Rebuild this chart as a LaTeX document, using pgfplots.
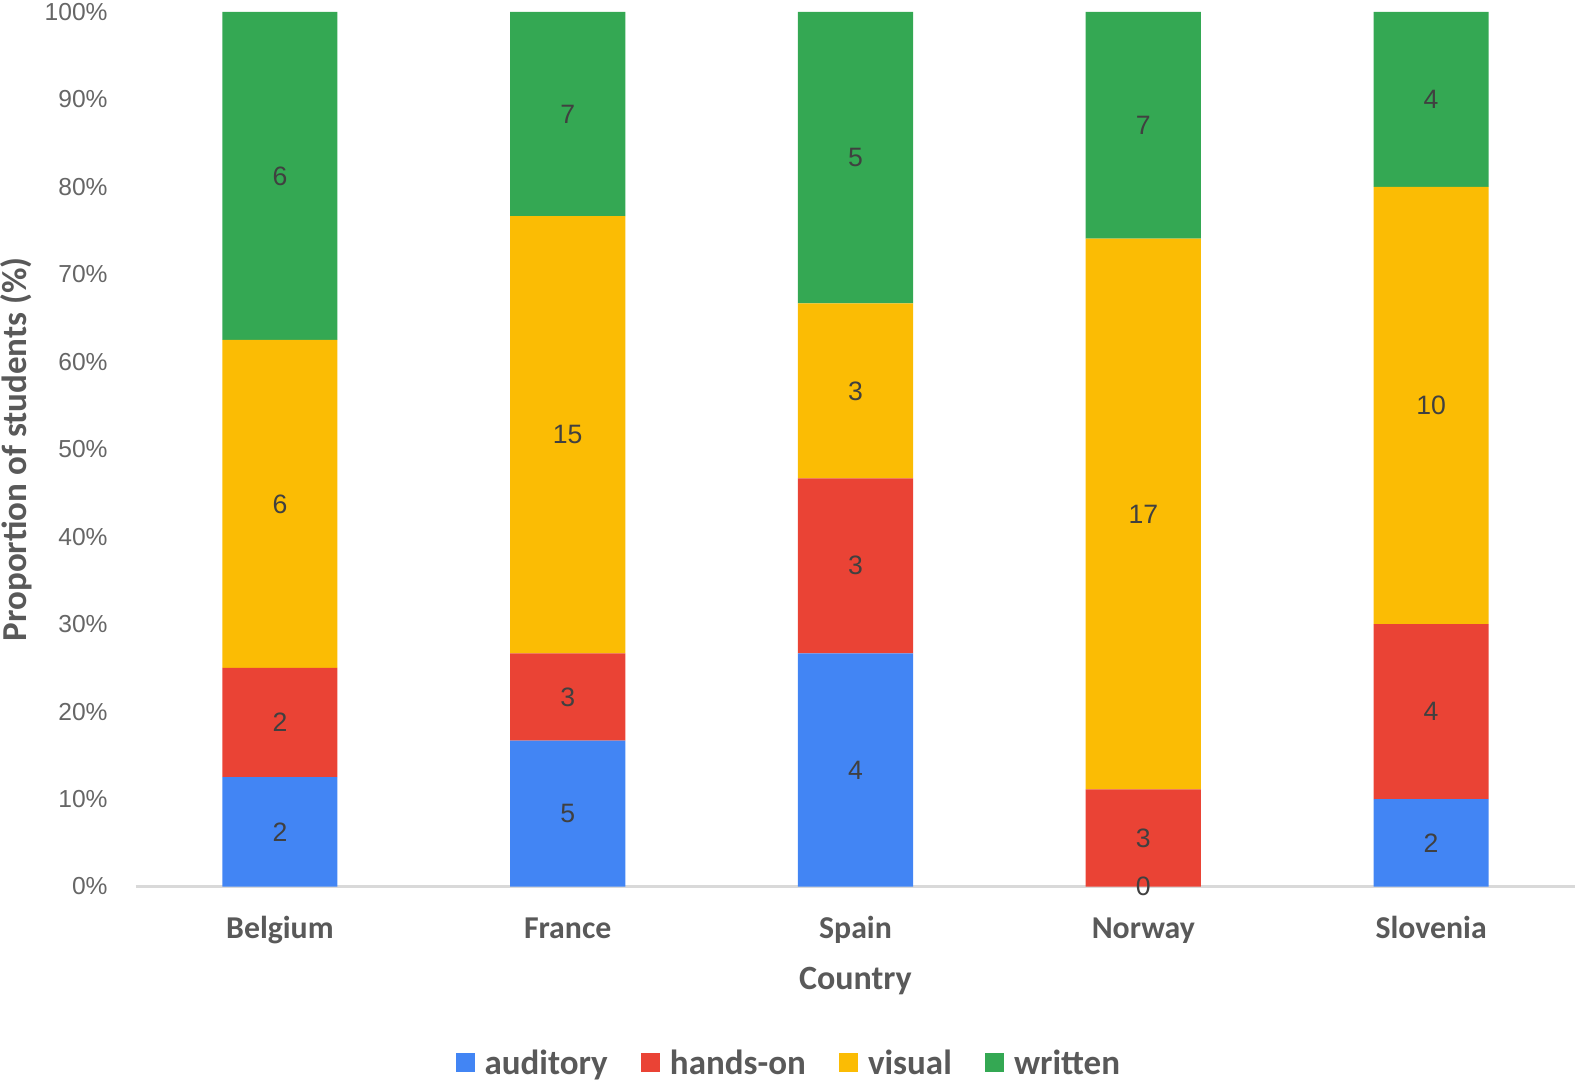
\documentclass[border=0pt]{standalone}
\usepackage{pgfplots}
\usepackage{pgfplotstable}
\pgfplotsset{compat=1.18}
\usepackage{fontspec}
\setmainfont{Carlito}
\newfontfamily\arial{Liberation Sans}
\definecolor{cA}{HTML}{4285F4}
\definecolor{cH}{HTML}{EA4335}
\definecolor{cV}{HTML}{FBBC04}
\definecolor{cW}{HTML}{34A853}
\definecolor{tgray}{HTML}{595959}
\definecolor{lgray}{HTML}{666666}
\definecolor{dgray}{HTML}{404040}
\definecolor{axgray}{HTML}{D9D9D9}

% x = country index, p = percent of students, n = number of students
\pgfplotstableread{
x p n
0 12.5 2
1 16.667 5
2 26.667 4
3 0 0
4 10 2
}\auditory
\pgfplotstableread{
x p n
0 12.5 2
1 10 3
2 20 3
3 11.111 3
4 20 4
}\handson
\pgfplotstableread{
x p n
0 37.5 6
1 50 15
2 20 3
3 62.963 17
4 50 10
}\visual
\pgfplotstableread{
x p n
0 37.5 6
1 23.333 7
2 33.333 5
3 25.926 7
4 20 4
}\written
% label positions: middle of each stacked segment (percent), n = count shown
\pgfplotstableread{
x c n
0 6.25 2
1 8.333 5
2 13.333 4
3 0 0
4 5 2
0 18.75 2
1 21.667 3
2 36.667 3
3 5.556 3
4 20 4
0 43.75 6
1 51.667 15
2 56.667 3
3 42.593 17
4 55 10
0 81.25 6
1 88.333 7
2 83.333 5
3 87.037 7
4 90 4
}\labels

\pgfplotsset{
  base/.style={
    scale only axis,
    width=719.5pt, height=437.25pt,
    xmin=-0.5, xmax=4.5,
    ymin=0, ymax=100,
    clip=false,
    at={(0,0)}, anchor=south west,
  },
}

\begin{document}
\begin{tikzpicture}
\useasboundingbox (-68pt,-97.75pt) rectangle (720pt,443.25pt);
\begin{axis}[
  base,
  ybar stacked,
  bar width=0.4,
  xtick=data,
  xticklabels={Belgium,France,Spain,Norway,Slovenia},
  ytick={0,10,...,100},
  yticklabel={\pgfmathprintnumber{\tick}\%},
  /pgf/number format/assume math mode=true,
  axis lines*=left,
  axis line style={-},
  y axis line style={draw=none},
  x axis line style={draw=axgray, line width=1.5pt},
  major tick length=0pt,
  tick style={draw=none},
  yticklabel style={font=\arial\fontsize{12.3}{14}\selectfont, text=lgray, anchor=east, inner sep=0pt, xshift=-14pt},
  xticklabel style={font=\bfseries\fontsize{15.9}{18}\selectfont, text=tgray, anchor=base, yshift=-26pt},
  xlabel={Country},
  ylabel={Proportion of students (\%)},
  xlabel style={font=\bfseries\fontsize{17}{20}\selectfont, text=tgray, at={(axis description cs:0.5,0)}, anchor=base, yshift=-51.5pt},
  ylabel style={font=\bfseries\fontsize{17.5}{20}\selectfont, text=tgray, at={(axis description cs:-0.0945,0.5)}, anchor=north, inner sep=0pt},
  legend style={at={(axis description cs:0.4545,0)}, anchor=center, yshift=-88.75pt, draw=none, fill=none,
    font=\bfseries\fontsize{17.5}{20}\selectfont, text=tgray,
    /tikz/every odd column/.append style={column sep=3pt},
    /tikz/every even column/.append style={column sep=14.8pt}},
  legend columns=4,
  legend image code/.code={\fill[#1] (0pt,-4pt) rectangle (9.3pt,5.3pt);},
  legend cell align=left,
]
\addplot[fill=cA, draw=none] table[x=x, y=p] {\auditory};
\addlegendentry{auditory}
\addplot[fill=cH, draw=none] table[x=x, y=p] {\handson};
\addlegendentry{hands-on}
\addplot[fill=cV, draw=none] table[x=x, y=p] {\visual};
\addlegendentry{visual}
\addplot[fill=cW, draw=none] table[x=x, y=p] {\written};
\addlegendentry{written}
\end{axis}
% overlay axis carrying the count labels, drawn above every bar
\begin{axis}[
  base,
  hide axis,
  nodes near coords,
  point meta=explicit symbolic,
  every node near coord/.append style={font=\arial\fontsize{13.3}{15}\selectfont, text=dgray, anchor=center},
]
\addplot[draw=none, mark=none, only marks] table[x=x, y=c, meta=n] {\labels};
\end{axis}
\end{tikzpicture}
\end{document}
